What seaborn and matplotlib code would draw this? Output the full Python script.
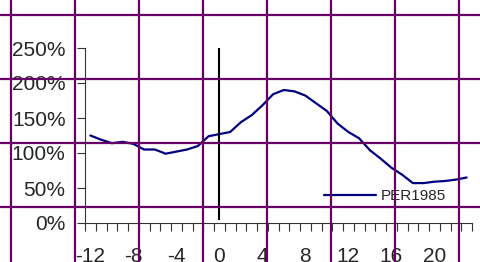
import seaborn as sns
import matplotlib.pyplot as plt
import matplotlib.lines as mlines
from matplotlib.ticker import PercentFormatter
import numpy as np
import pandas as pd

# months relative to event, PER as % of base
months = list(range(-12, 24))
per1985 = [125, 119, 114, 116, 113, 105, 105, 99, 102, 105, 110, 124,
           127, 130, 144, 154, 168, 184, 190, 188, 182, 171, 160, 142,
           130, 121, 104, 92, 79, 69, 57, 57, 59, 60, 62, 65]
xlabels = [-12, -8, -4, 0, 4, 8, 12, 16, 20]
yticks = [0, 50, 100, 150, 200, 250]

df = pd.DataFrame({'month': months, 'PER1985': per1985})

sns.set_style('white')
plt.rcParams['font.family'] = ['Liberation Sans', 'DejaVu Sans']
plt.rcParams['axes.unicode_minus'] = False

fig = plt.figure(figsize=(4.8, 2.62), dpi=100)
ax = fig.add_axes([85 / 480, 39 / 262, 387 / 480, 175 / 262])

sns.lineplot(data=df, x='month', y='PER1985', ax=ax, color='#000080',
             linewidth=1.6, label='PER1985')
ax.vlines(0, 4, 252, color='black', linewidth=1.5)

ax.set_xlim(-12.5, 23.5)
ax.set_ylim(0, 250)
ax.set_xlabel('')
ax.set_ylabel('')
ax.yaxis.set_major_formatter(PercentFormatter(100, decimals=0))
ax.set_yticks(yticks)
ax.set_xticks(xlabels)
ax.set_xticks(np.arange(-12.5, 24, 1), minor=True)
ax.tick_params(axis='x', which='major', length=0, pad=17, labelsize=15)
ax.tick_params(axis='x', which='minor', length=6, width=0.8, direction='out',
               bottom=True, color='#333333')
ax.tick_params(axis='y', which='major', length=6, width=0.8, direction='out',
               left=True, pad=8, labelsize=15, color='#333333')

for side in ['top', 'right']:
    ax.spines[side].set_visible(False)
for side in ['left', 'bottom']:
    ax.spines[side].set_color('#333333')
    ax.spines[side].set_linewidth(0.8)

ax.legend(loc='center left', bbox_to_anchor=(324 / 480, 1 - 196 / 262),
          bbox_transform=fig.transFigure, frameon=False, fontsize=11,
          borderpad=0, borderaxespad=0, handlelength=3.4, handletextpad=0.3)

# purple grid over the whole picture
purple = '#660066'
for px in range(11, 480, 64):
    fig.add_artist(mlines.Line2D([px / 480, px / 480], [0, 1], color=purple,
                                 linewidth=1.6, zorder=10,
                                 transform=fig.transFigure))
for py in range(15, 262, 64):
    fig.add_artist(mlines.Line2D([0, 1], [1 - py / 262, 1 - py / 262],
                                 color=purple, linewidth=1.6, zorder=10,
                                 transform=fig.transFigure))

fig.savefig('out.png', dpi=100)
